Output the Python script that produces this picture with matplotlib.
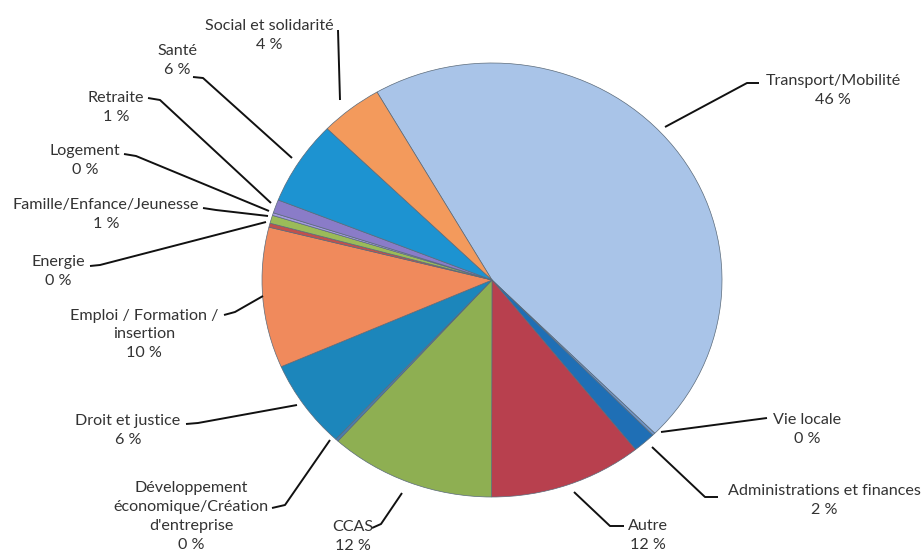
import matplotlib
matplotlib.use("Agg")
import matplotlib.pyplot as plt

# slices clockwise from the top-left, shares (%)
categories = ["Transport/Mobilité", "Vie locale", "Administrations et finances", "Autre",
              "CCAS", "Développement\néconomique/Création\nd'entreprise", "Droit et justice",
              "Emploi / Formation /\ninsertion", "Energie", "Famille/Enfance/Jeunesse",
              "Logement", "Retraite", "Santé", "Social et solidarité"]
shares = [46.0, 0.2, 1.6, 10.8, 11.7, 0.2, 6.6, 10.5, 0.3, 0.6, 0.2, 1.0, 6.3, 4.4]
pct_text = [46, 0, 2, 12, 12, 0, 6, 10, 0, 1, 0, 1, 6, 4]
colors = ["#a9c4e8", "#6f95c8", "#1f6fb5", "#b8404e", "#8eaf52", "#4a7db0", "#1c86bb",
          "#f08a5c", "#c0504d", "#9bbb59", "#a49ae0", "#8a7cc8", "#1d93d1", "#f39a5c"]

W, H = 923, 558
CX, CY, RX, RY = 492, 280, 230, 217
K = RX / RY  # vertical stretch so the circle shows a little flattened
LINE = 21.5  # px between label lines


def px(x, y):
    """pixel (from top-left) -> data coords"""
    return x, (H - y) * K


# label centre x and centre y of first line, leader points in pixels
label_pos = [(833, 80), (807, 419), (824, 490), (648, 525), (353, 526), (191, 484),
             (128, 420), (144, 313), (58, 261), (106, 204), (85, 150), (116, 97),
             (177, 50), (269, 25)]
leaders = [
    [(759, 83), (747, 83), (665, 127)],
    [(767, 418), (661, 432)],
    [(718, 497), (705, 497), (652, 447)],
    [(624, 526), (610, 526), (574, 492)],
    [(372, 528), (381, 524), (402, 493)],
    [(272, 508), (285, 505), (330, 440)],
    [(186, 424), (198, 423), (297, 405)],
    [(224, 315), (235, 312), (263, 296)],
    [(90, 266), (100, 265), (266, 222)],
    [(203, 208), (216, 210), (268, 216)],
    [(124, 154), (136, 156), (269, 211)],
    [(148, 98), (160, 100), (271, 203)],
    [(193, 77), (203, 78), (292, 158)],
    [(338, 30), (340, 100)],
]

fig = plt.figure(figsize=(W / 100, H / 100), dpi=100)
ax = fig.add_axes([0, 0, 1, 1])

cx, cy = px(CX, CY)
ax.pie(shares, colors=colors, startangle=120, counterclock=False, center=(cx, cy),
       radius=RX, frame=True,
       wedgeprops=dict(edgecolor="#5a6a7a", linewidth=0.5))
ax.set_xlim(0, W)
ax.set_ylim(0, H * K)
ax.set_aspect("auto")
ax.axis("off")

for name, pct, (tx, ty), pts in zip(categories, pct_text, label_pos, leaders):
    xs, ys = zip(*[px(x, y) for x, y in pts])
    ax.plot(xs, ys, color="#111111", lw=1.4, solid_capstyle="butt")
    n = name.count("\n") + 2
    lx, ly = px(tx, ty + (n - 1) * LINE / 2)
    ax.text(lx, ly, f"{name}\n{pct} %", ha="center", va="center", fontsize=11.6,
            family="Lato", color="#333333", linespacing=1.45)

fig.savefig("out.png", dpi=100)
